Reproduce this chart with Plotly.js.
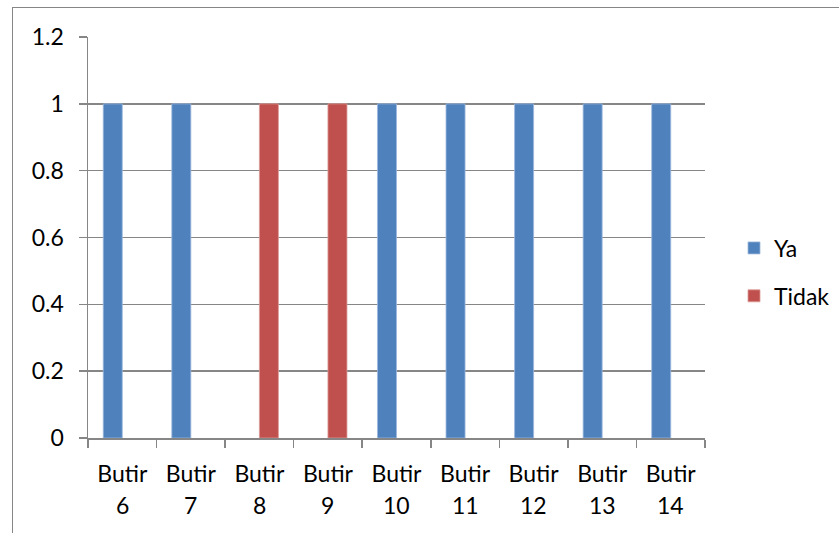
<!DOCTYPE html>
<html>
<head>
<meta charset="utf-8">
<script src="https://cdn.plot.ly/plotly-3.0.1.min.js"></script>
<style>
  html, body { margin: 0; padding: 0; background: #ffffff; }
  #wrap { position: relative; width: 839px; height: 533px; overflow: hidden; }
  #frame { position: absolute; left: 12px; top: 7px; width: 900px; height: 600px;
           border-left: 1.5px solid #868686; border-top: 1.5px solid #868686; }
  #chart { position: absolute; left: 0; top: 0; width: 839px; height: 533px; }
</style>
</head>
<body>
<div id="wrap">
  <div id="frame"></div>
  <div id="chart"></div>
</div>
<script>
const categories = ["Butir 6", "Butir 7", "Butir 8", "Butir 9", "Butir 10", "Butir 11", "Butir 12", "Butir 13", "Butir 14"];
const tickWords = ["Butir", "Butir", "Butir", "Butir", "Butir", "Butir", "Butir", "Butir", "Butir"];
const tickNumbers = ["6", "7", "8", "9", "10", "11", "12", "13", "14"];
const yaValues = [1, 1, null, null, 1, 1, 1, 1, 1];
const tidakValues = [null, null, 1, 1, null, null, null, null, null];

const FONT = "Lato, 'Open Sans', sans-serif";
const FS = 23;
const GRID = "#868686";

const traces = [
  { type: "bar", name: "Ya", x: categories, y: yaValues, legendgroup: "a",
    marker: { color: "#4F81BD", line: { color: "#9DB9DD", width: 0.8 } } },
  { type: "bar", name: "Tidak", x: categories, y: tidakValues, legendgroup: "b",
    marker: { color: "#C0504D", line: { color: "#DC9C9A", width: 0.8 } } }
];

const numberAnnotations = categories.map((c, i) => ({
  x: c, xref: "x", y: 0, yref: "paper", yshift: -67,
  text: tickNumbers[i], showarrow: false, xanchor: "center", yanchor: "middle",
  font: { family: FONT, size: FS, color: "#000" }
}));

const layout = {
  width: 839, height: 533,
  margin: { l: 88, r: 134, t: 37, b: 95, pad: 0 },
  paper_bgcolor: "rgba(0,0,0,0)",
  plot_bgcolor: "rgba(0,0,0,0)",
  font: { family: FONT, size: FS, color: "#000000" },
  barmode: "group",
  bargap: 0.445,
  bargroupgap: 0,
  showlegend: true,
  legend: { xref: "container", x: 734 / 839, xanchor: "left",
            y: 0.414, yanchor: "middle",
            traceorder: "grouped", tracegroupgap: 15,
            font: { family: FONT, size: FS, color: "#000" }, bgcolor: "rgba(0,0,0,0)" },
  xaxis: {
    type: "category", tickmode: "array", tickvals: categories, ticktext: tickWords,
    tickson: "boundaries", ticks: "outside", ticklen: 8, tickcolor: GRID, tickwidth: 1.5,
    showline: true, linecolor: GRID, linewidth: 1.5, showgrid: false,
    tickfont: { family: FONT, size: FS, color: "#000" }, ticklabelstandoff: 15,
    fixedrange: true
  },
  yaxis: {
    range: [0, 1.2], tickmode: "linear", tick0: 0, dtick: 0.2,
    ticks: "outside", ticklen: 8, tickcolor: GRID, tickwidth: 1.5,
    showline: true, linecolor: GRID, linewidth: 1.5,
    showgrid: true, gridcolor: GRID, gridwidth: 1.5, zeroline: false,
    tickfont: { family: FONT, size: FS, color: "#000" }, ticklabelstandoff: 10,
    fixedrange: true
  },
  annotations: numberAnnotations
};

Plotly.newPlot("chart", traces, layout, { displayModeBar: false, staticPlot: true });
</script>
</body>
</html>
